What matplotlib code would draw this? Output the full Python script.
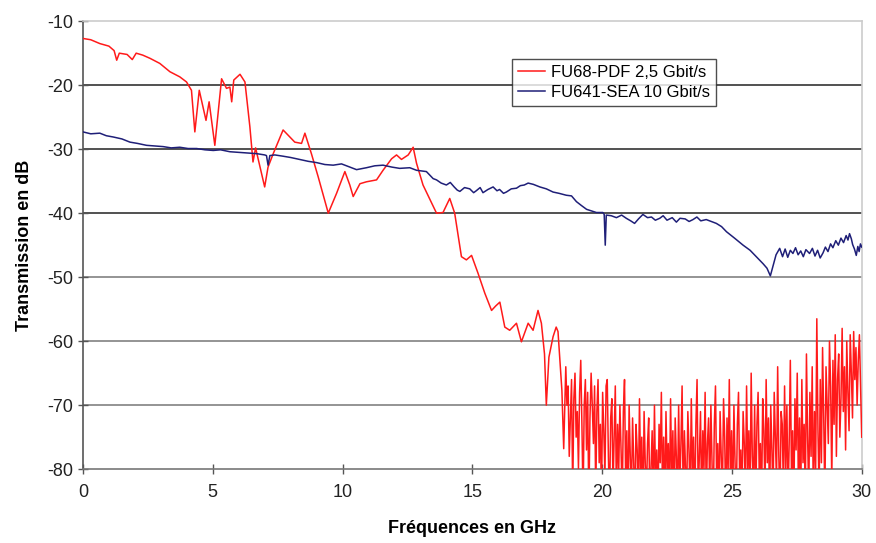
import numpy as np
import matplotlib
matplotlib.use("Agg")
import matplotlib.pyplot as plt

plt.rcParams['font.family'] = ['Liberation Sans', 'DejaVu Sans']
plt.rcParams['axes.unicode_minus'] = False

# FU68-PDF 2,5 Gbit/s : smooth part
red_x = [0, 0.3, 0.65, 1.0, 1.2, 1.3, 1.4, 1.7, 1.9, 2.05, 2.3, 2.58, 2.96, 3.35,
         3.73, 3.99, 4.18, 4.31, 4.48, 4.74, 4.86, 5.08, 5.34, 5.53, 5.66, 5.73,
         5.81, 6.05, 6.24, 6.43, 6.55, 6.65, 7.0, 7.13, 7.33, 7.71, 8.16, 8.42,
         8.55, 8.8, 9.06, 9.45, 9.77, 10.09, 10.28, 10.41, 10.67, 10.92, 11.31,
         11.56, 11.89, 12.08, 12.27, 12.53, 12.72, 12.85, 13.1, 13.36, 13.62,
         13.87, 14.13, 14.32, 14.58, 14.77, 14.97, 15.22, 15.48, 15.74, 15.9,
         16.06, 16.25, 16.44, 16.7, 16.89, 17.15, 17.34, 17.53, 17.66, 17.78,
         17.85, 17.95, 18.11, 18.23, 18.3, 18.45, 18.52]
red_y = [-12.7, -12.9, -13.5, -13.9, -14.6, -16.1, -15.0, -15.2, -16.0, -15.0, -15.3,
         -15.8, -16.6, -17.9, -18.7, -19.5, -20.8, -27.3, -20.8, -25.5, -22.6, -29.4,
         -19.0, -20.5, -20.3, -22.6, -19.2, -18.3, -19.5, -26.5, -32.0, -29.8, -35.9,
         -32.8, -30.7, -27.0, -28.9, -29.1, -27.5, -30.7, -34.3, -40.0, -36.9, -33.5,
         -35.6, -37.4, -35.4, -35.1, -34.8, -33.3, -31.5, -30.9, -31.6, -30.9, -29.7,
         -32.2, -35.6, -37.8, -40.0, -39.9, -37.7, -40.0, -46.8, -47.3, -46.6, -49.4,
         -52.5, -55.2, -54.5, -53.9, -57.8, -58.3, -57.2, -60.1, -57.2, -58.3, -55.2,
         -57.2, -62.0, -70.0, -62.5, -59.3, -57.8, -58.5, -67.7, -76.8]

# noisy tail 18.6 -> 30 GHz, read by eye (values below -80 are off the chart)
red_tail = [-64, -70, -67, -78, -72, -66, -84, -69, -65, -75, -71, -80,
            -68, -63, -73, -85, -70, -66, -77, -68, -86, -72, -65, -70,
            -76, -67, -84, -71, -66, -79, -73, -85, -68, -74, -81, -67,
            -66, -78, -86, -72, -69, -83, -75, -67, -85, -73, -80, -70,
            -77, -85, -71, -66, -82, -74, -87, -70, -78, -84, -72, -79,
            -86, -73, -77, -85, -69, -81, -75, -88, -71, -79, -84, -76,
            -72, -86, -80, -74, -85, -70, -83, -77, -86, -73, -79, -68,
            -84, -75, -87, -71, -80, -76, -85, -69, -82, -74, -88, -72,
            -78, -85, -70, -83, -76, -67, -86, -74, -80, -84, -71, -77,
            -85, -69, -81, -75, -87, -73, -66, -84, -78, -71, -86, -74,
            -80, -68, -85, -76, -72, -84, -70, -79, -87, -73, -67, -82,
            -76, -86, -71, -78, -84, -69, -75, -88, -72, -80, -66, -83,
            -74, -85, -70, -79, -86, -73, -68, -82, -77, -85, -71, -76,
            -84, -67, -80, -74, -86, -65, -78, -83, -70, -85, -73, -68,
            -81, -76, -86, -69, -74, -84, -66, -79, -72, -87, -70, -77,
            -85, -68, -75, -82, -64, -78, -86, -71, -73, -84, -67, -80,
            -70, -85, -76, -63, -81, -74, -86, -69, -77, -65, -83, -72,
            -86, -66, -79, -73, -85, -62, -75, -84, -68, -78, -64, -86,
            -71, -80, -56.5, -74, -84, -66, -79, -61, -72, -85, -64, -70,
            -76, -60, -67, -82, -63, -73, -59, -78, -66, -62, -75, -69,
            -58, -71, -64, -77, -60, -68, -74, -59, -65, -72, -58.5, -66,
            -61, -70, -63, -59, -67, -75]
red_tail_x = np.linspace(18.6, 30, len(red_tail))

# FU641-SEA 10 Gbit/s
blue_x = [0, 0.3, 0.65, 0.9, 1.17, 1.5, 1.81, 2.1, 2.45, 2.8, 3.09, 3.4, 3.73, 4.05,
          4.38, 4.7, 5.02, 5.3, 5.66, 6.0, 6.3, 6.69, 7.0, 7.07, 7.13, 7.2, 7.39,
          7.71, 8.0, 8.35, 8.68, 9.0, 9.32, 9.64, 9.96, 10.28, 10.54, 10.92, 11.24,
          11.56, 11.9, 12.2, 12.59, 12.85, 13.23, 13.49, 13.62, 13.8, 14.0, 14.15,
          14.3, 14.42, 14.52, 14.7, 14.9, 15.05, 15.15, 15.3, 15.41, 15.6, 15.8,
          15.95, 16.05, 16.2, 16.31, 16.5, 16.7, 16.85, 17.0, 17.15, 17.35, 17.6,
          17.85, 18.11, 18.34, 18.62, 18.82, 19.01, 19.2, 19.4, 19.78, 20.03, 20.08,
          20.12, 20.16, 20.35, 20.55, 20.75, 20.93, 21.1, 21.25, 21.4, 21.57, 21.75,
          21.9, 22.05, 22.22, 22.35, 22.5, 22.7, 22.86, 23.0, 23.2, 23.35, 23.5,
          23.65, 23.8, 24.01, 24.2, 24.4, 24.6, 24.79, 25.1, 25.43, 25.7, 25.94,
          26.2, 26.35, 26.48, 26.6, 26.7, 26.84, 26.95, 27.05, 27.15, 27.25, 27.35,
          27.45, 27.55, 27.65, 27.75, 27.85, 27.99, 28.1, 28.2, 28.3, 28.4, 28.51,
          28.6, 28.7, 28.8, 28.89, 29.0, 29.1, 29.2, 29.3, 29.4, 29.47, 29.53, 29.6,
          29.65, 29.72, 29.79, 29.85, 29.9, 29.95, 30.0]
blue_y = [-27.3, -27.6, -27.5, -27.9, -28.1, -28.4, -28.9, -29.1, -29.4, -29.5, -29.6,
          -29.8, -29.7, -29.9, -29.9, -30.1, -30.2, -30.1, -30.4, -30.5, -30.6, -30.7,
          -30.9, -31.0, -32.5, -31.0, -30.9, -31.1, -31.3, -31.6, -31.9, -32.1, -32.4,
          -32.5, -32.3, -32.8, -33.2, -32.9, -32.6, -32.5, -32.8, -33.0, -32.9, -33.3,
          -33.5, -34.6, -34.8, -35.3, -35.6, -35.2, -35.9, -36.4, -36.6, -36.0, -36.2,
          -36.8, -36.5, -36.0, -36.8, -36.3, -35.9, -36.5, -36.3, -36.9, -36.7, -36.2,
          -36.1, -35.7, -35.6, -35.3, -35.5, -35.9, -36.2, -36.7, -36.9, -37.2, -37.3,
          -38.2, -38.8, -39.4, -39.9, -39.9, -40.2, -45.0, -40.3, -40.4, -40.7, -40.3,
          -40.8, -41.2, -41.6, -40.9, -40.2, -40.7, -40.6, -41.1, -40.8, -40.4, -41.1,
          -40.7, -41.4, -40.8, -40.9, -41.3, -41.0, -40.6, -41.2, -41.0, -41.3, -41.6,
          -42.1, -42.9, -43.9, -45.0, -45.8, -46.8, -47.9, -48.6, -49.8, -48.0, -46.5,
          -45.5, -46.8, -45.6, -46.9, -45.8, -46.3, -45.4, -46.5, -45.9, -46.8, -45.7,
          -46.3, -45.5, -46.7, -45.8, -47.0, -46.2, -45.3, -46.0, -44.8, -45.4, -44.3,
          -45.0, -43.9, -44.6, -43.5, -44.2, -43.2, -44.0, -44.9, -45.6, -46.6, -45.2,
          -46.0, -44.8, -45.3]

fig = plt.figure(figsize=(8.76, 5.43), dpi=100)
ax = fig.add_axes([0.0947, 0.136, 0.889, 0.825])

for v, c in zip([-20, -30, -40, -50, -60, -70], ['#222', '#222', '#222', '#777', '#777', '#777']):
    ax.axhline(v, color=c, lw=1.1, zorder=1)

ax.plot(list(red_x) + list(red_tail_x), red_y + red_tail, color='#ff1a1a', lw=1.1,
        label='FU68-PDF 2,5 Gbit/s', zorder=3)
ax.plot(blue_x, blue_y, color='#1f1f78', lw=1.1, label='FU641-SEA 10 Gbit/s', zorder=4)

ax.set_xlim(0, 30)
ax.set_ylim(-80, -10)
ax.set_xticks([0, 5, 10, 15, 20, 25, 30])
ax.set_yticks([-10, -20, -30, -40, -50, -60, -70, -80])
ax.tick_params(direction='inout', length=7, width=1, color='#555', labelsize=13,
               labelcolor='#222')
ax.tick_params(axis='x', pad=7)
ax.spines['left'].set_color('#555')
ax.spines['bottom'].set_color('#777')
ax.spines['top'].set_color('#ccc')
ax.spines['right'].set_color('#ccc')
for s in ax.spines.values():
    s.set_linewidth(1.2)

ax.set_xlabel('Fréquences en GHz', fontsize=13, fontweight='bold', labelpad=14)
ax.set_ylabel('Transmission en dB', fontsize=13, fontweight='bold', labelpad=10)

leg = ax.legend(loc='upper left', bbox_to_anchor=(0.551, 0.915), fontsize=12,
                frameon=True, fancybox=False, edgecolor='#222', handlelength=1.6,
                handletextpad=0.4, borderpad=0.35, labelspacing=0.3, borderaxespad=0)
leg.get_frame().set_linewidth(1.0)
leg.set_zorder(5)

fig.savefig('out.png', dpi=100)
